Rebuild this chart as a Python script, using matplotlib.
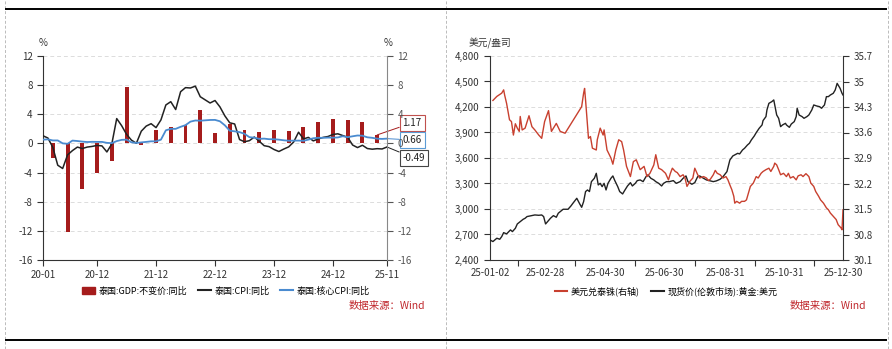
import numpy as np
import pandas as pd
import matplotlib
matplotlib.use("Agg")
import matplotlib.pyplot as plt
from matplotlib.lines import Line2D
from matplotlib.patches import Patch

plt.rcParams['font.family'] = ['Noto Sans CJK SC', 'DejaVu Sans']
plt.rcParams['axes.unicode_minus'] = False

# ---- left panel data: Thailand GDP / CPI / core CPI (monthly, 2020-01 .. 2025-11)
cpi = [1.05, 0.74, -0.54, -2.99, -3.44, -1.57, -0.98, -0.50, -0.70, -0.50, -0.41, -0.27,
       -0.34, -1.17, -0.08, 3.41, 2.44, 1.25, 0.45, 0.02, 1.68, 2.38, 2.71, 2.17,
       3.23, 5.28, 5.73, 4.65, 7.10, 7.66, 7.61, 7.86, 6.41, 5.98, 5.55, 5.89,
       5.02, 3.79, 2.83, 2.67, 0.53, 0.23, 0.38, 0.88, 0.30, -0.31, -0.44, -0.83,
       -1.11, -0.77, -0.47, 0.19, 1.54, 0.62, 0.83, 0.35, 0.61, 0.83, 0.95, 1.23,
       1.32, 1.08, 0.84, -0.22, -0.57, -0.25, -0.70, -0.79, -0.72, -0.76, -0.49]
core_cpi = [0.52, 0.56, 0.41, 0.41, 0.01, -0.05, 0.39, 0.33, 0.25, 0.19, 0.22, 0.21,
            0.21, 0.08, 0.04, 0.32, 0.49, 0.52, 0.15, 0.07, 0.14, 0.21, 0.29, 0.29,
            0.52, 1.80, 2.00, 2.00, 2.28, 2.51, 2.99, 3.15, 3.12, 3.17, 3.22, 3.23,
            3.04, 2.49, 1.75, 1.66, 1.55, 1.32, 0.86, 0.79, 0.63, 0.66, 0.58, 0.58,
            0.52, 0.43, 0.37, 0.38, 0.39, 0.36, 0.52, 0.71, 0.77, 0.77, 0.80, 0.79,
            0.82, 0.99, 0.86, 0.98, 1.09, 1.06, 0.84, 0.77, 0.65, 0.62, 0.66]
gdp = [-2.0, -12.2, -6.3, -4.0, -2.4, 7.7, -0.2, 1.9, 2.3, 2.5, 4.6, 1.4,
       2.7, 1.9, 1.5, 1.8, 1.7, 2.3, 3.0, 3.3, 3.2, 2.9, 1.17]
month_ticks = ['20-01', '20-12', '21-12', '22-12', '23-12', '24-12', '25-11']

# ---- right panel data: gold (USD/oz) and USD/THB, 2025 (day offsets from 2025-01-02)
gold_day = [0, 3, 7, 10, 12, 14, 17, 21, 23, 26, 28, 31, 34, 36, 38, 41, 44, 46, 50, 53,
            55, 57, 60, 62, 65, 68, 70, 72, 75, 78, 80, 83, 85, 89, 92, 94, 96, 98, 100, 102,
            104, 107, 109, 111, 113, 115, 117, 119, 121, 124, 126, 128, 131, 133, 136, 138,
            141, 144, 146, 149, 151, 154, 157, 160, 162, 165, 168, 170, 173, 176, 178, 181,
            184, 188, 191, 195, 198, 201, 203, 207, 210, 213, 215, 219, 222, 226, 229, 232,
            236, 239, 243, 246, 249, 251, 254, 256, 259, 261, 264, 266, 268, 271, 273, 276,
            279, 280, 283, 284, 286, 289, 291, 292, 294, 296, 298, 300, 303, 304, 307, 309,
            312, 314, 315, 317, 320, 322, 325, 327, 330, 332, 335, 338, 340, 343, 345, 347,
            349, 352, 354, 356, 359, 361, 362]
gold_px = [2636, 2617, 2656, 2644, 2675, 2722, 2707, 2754, 2734, 2773, 2824, 2852, 2879, 2891,
           2911, 2918, 2926, 2930, 2926, 2930, 2911, 2824, 2864, 2891, 2922, 2903, 2950, 2969,
           2997, 2997, 2997, 3036, 3067, 3126, 3060, 3020, 3087, 3205, 3224, 3205, 3322, 3361,
           3420, 3283, 3302, 3263, 3302, 3224, 3302, 3361, 3389, 3334, 3263, 3205, 3177, 3216,
           3271, 3310, 3271, 3302, 3334, 3342, 3322, 3381, 3401, 3361, 3342, 3322, 3302, 3271,
           3302, 3322, 3322, 3334, 3302, 3322, 3361, 3389, 3322, 3291, 3310, 3381, 3389, 3361,
           3342, 3330, 3322, 3330, 3350, 3381, 3440, 3577, 3624, 3636, 3655, 3648, 3695, 3714,
           3753, 3773, 3812, 3859, 3898, 3949, 3989, 4040, 4087, 4165, 4243, 4263, 4283, 4224,
           4106, 4067, 3969, 3989, 4008, 3989, 3961, 4000, 4028, 4087, 4185, 4106, 4087, 4067,
           4087, 4106, 4165, 4224, 4212, 4204, 4185, 4224, 4322, 4322, 4341, 4361, 4400, 4478,
           4420, 4361, 4341]
thb_day = [3, 7, 12, 14, 15, 17, 20, 22, 24, 26, 28, 30, 31, 33, 36, 40, 43, 46, 50, 53, 56,
           60, 63, 68, 72, 77, 94, 96, 97, 98, 101, 103, 105, 109, 110, 113, 116, 117, 120,
           124, 126, 129, 132, 135, 137, 140, 144, 147, 150, 154, 158, 161, 164, 168, 170,
           173, 176, 180, 183, 185, 187, 190, 192, 195, 198, 200, 202, 205, 208, 210, 213,
           215, 219, 222, 224, 226, 229, 231, 233, 236, 239, 242, 244, 246, 248, 250, 251,
           253, 256, 258, 261, 263, 265, 267, 270, 273, 275, 278, 280, 283, 286, 288, 291,
           292, 294, 296, 298, 301, 304, 306, 308, 311, 314, 316, 319, 321, 324, 327, 329,
           332, 334, 337, 339, 342, 345, 347, 349, 352, 355, 357, 360, 361, 362]
thb = [34.48, 34.59, 34.68, 34.77, 34.63, 34.40, 33.95, 33.90, 33.53, 33.84, 33.72, 33.63,
       34.04, 33.67, 33.72, 34.06, 33.76, 33.67, 33.53, 33.44, 33.90, 34.20, 33.63, 33.85,
       33.63, 33.58, 34.31, 34.68, 34.81, 34.49, 33.44, 33.49, 33.17, 33.12, 33.40, 33.72,
       33.53, 33.67, 33.12, 32.90, 32.73, 33.12, 33.40, 33.35, 33.12, 32.67, 32.39, 32.80,
       32.85, 32.58, 32.67, 32.39, 32.48, 32.71, 32.99, 32.62, 32.58, 32.48, 32.30, 32.48,
       32.62, 32.53, 32.50, 32.39, 32.44, 32.35, 32.12, 32.26, 32.35, 32.62, 32.44, 32.35,
       32.39, 32.35, 32.28, 32.32, 32.44, 32.56, 32.48, 32.44, 32.35, 32.39, 32.30, 32.16,
       32.03, 31.85, 31.66, 31.71, 31.66, 31.71, 31.71, 31.75, 31.94, 32.12, 32.21, 32.39,
       32.35, 32.48, 32.53, 32.58, 32.62, 32.53, 32.67, 32.76, 32.71, 32.58, 32.44, 32.48,
       32.39, 32.48, 32.35, 32.39, 32.30, 32.41, 32.44, 32.39, 32.47, 32.39, 32.21, 32.12,
       31.98, 31.85, 31.75, 31.66, 31.53, 31.48, 31.39, 31.30, 31.21, 31.07, 30.98, 30.93,
       31.48]
day_ticks = ['2025-01-02', '2025-02-28', '2025-04-30', '2025-06-30', '2025-08-31',
             '2025-10-31', '2025-12-30']

RED = '#a51c1c'
BLUE = '#4a8bd0'
BLACK = '#222222'
THB_RED = '#c8402f'
GRID = '#dcdcdc'
FS = 7

fig = plt.figure(figsize=(8.92, 3.49), dpi=100)

# ---------------- left chart
months = pd.date_range('2020-01-01', periods=len(cpi), freq='MS')
mi = np.arange(len(cpi))
qi = np.arange(len(gdp)) * 3 + 2

ax = fig.add_axes([43 / 892, 89 / 349, 344 / 892, 204 / 349])
ax.bar(qi, gdp, width=0.8, color=RED, zorder=2)
ax.plot(mi, cpi, color=BLACK, lw=1.1, zorder=3)
ax.plot(mi, core_cpi, color=BLUE, lw=1.3, zorder=3)
ax.set_xlim(0, len(cpi) - 1)
ax.set_ylim(-16, 12)
yt = np.arange(-16, 13, 4)
ax.set_yticks(yt)
ax.set_yticklabels([str(v) for v in yt])
ax.yaxis.grid(True, ls=(0, (4, 3)), color=GRID, lw=0.7)
ax.set_axisbelow(True)
labs = [m.strftime('%y-%m') for m in months]
ax.set_xticks([labs.index(t) for t in month_ticks])
ax.set_xticklabels(month_ticks)
ax.tick_params(labelsize=FS, length=4, width=0.8, colors='#333333')
for s in ['top']:
    ax.spines[s].set_visible(False)
ax.spines['right'].set_visible(False)
ax.spines['left'].set_color('#333333')
ax.spines['bottom'].set_color('#333333')

axr = ax.twinx()
axr.set_ylim(-16, 12)
axr.set_yticks(yt)
axr.set_yticklabels([str(v) for v in yt])
axr.tick_params(labelsize=FS, length=4, width=0.8, colors='#555555')
axr.spines['top'].set_visible(False)
axr.spines['left'].set_visible(False)
axr.spines['bottom'].set_visible(False)
axr.spines['right'].set_color('#888888')

fig.text(43 / 892, 1 - 43 / 349, '%', fontsize=FS, ha='center', va='center', color='#333333')
fig.text(388 / 892, 1 - 43 / 349, '%', fontsize=FS, ha='center', va='center', color='#333333')

# end-value tags
last = len(cpi) - 1
tags = [(gdp[-1], qi[-1], 0.672, RED, '#c0504d'), (core_cpi[-1], last, 0.588, BLUE, '#5b9bd5'),
        (cpi[-1], last, 0.50, BLACK, '#444444')]
for val, xv, ty, lc, ec in tags:
    ax.annotate(f'{val:.2f}', xy=(xv, val), xycoords='data', xytext=(1.045, ty),
                textcoords='axes fraction', fontsize=FS, ha='left', va='center', color='#222222',
                bbox=dict(boxstyle='square,pad=0.3', fc='white', ec=ec, lw=0.8),
                arrowprops=dict(arrowstyle='-', color=lc, lw=0.7, shrinkA=0, shrinkB=0),
                annotation_clip=False, zorder=5)

handles = [Patch(color=RED), Line2D([], [], color=BLACK, lw=1.5), Line2D([], [], color=BLUE, lw=1.5)]
fig.legend(handles, ['泰国:GDP:不变价:同比', '泰国:CPI:同比', '泰国:核心CPI:同比'],
           loc='center', bbox_to_anchor=(226 / 892, 1 - 291 / 349), ncol=3, frameon=False,
           fontsize=6.5, handlelength=1.4, handleheight=0.9, columnspacing=1.2, handletextpad=0.4)
fig.text(425 / 892, 1 - 306 / 349, '数据来源：Wind', fontsize=7.5, color='#c0282d',
         ha='right', va='center')

# ---------------- right chart
base = pd.Timestamp('2025-01-02')
gold_dates = base + pd.to_timedelta(gold_day, unit='D')
thb_dates = base + pd.to_timedelta(thb_day, unit='D')
tick_dates = pd.to_datetime(day_ticks)

bx = fig.add_axes([490 / 892, 89 / 349, 353 / 892, 204 / 349])
bx.plot(gold_dates, gold_px, color=BLACK, lw=1.0, zorder=3)
bx.set_xlim(tick_dates[0], tick_dates[-1])
bx.set_ylim(2400, 4800)
gt = np.arange(2400, 4801, 300)
bx.set_yticks(gt)
bx.set_yticklabels([f'{v:,}' for v in gt])
bx.yaxis.grid(True, ls=(0, (4, 3)), color=GRID, lw=0.7)
bx.set_axisbelow(True)
bx.set_xticks(tick_dates)
bx.set_xticklabels([d.strftime('%y-%m-%d') for d in tick_dates])
mids = tick_dates[:-1] + (tick_dates[1:] - tick_dates[:-1]) / 2
bx.set_xticks(mids, minor=True)
bx.tick_params(axis='x', which='major', length=0, pad=6)
bx.tick_params(axis='x', which='minor', length=4, width=0.8, colors='#333333')
bx.tick_params(labelsize=FS, colors='#333333')
bx.tick_params(axis='y', length=4, width=0.8)
bx.spines['top'].set_visible(False)
bx.spines['right'].set_visible(False)
bx.spines['left'].set_color('#333333')
bx.spines['bottom'].set_color('#333333')

bxr = bx.twinx()
bxr.plot(thb_dates, thb, color=THB_RED, lw=1.0, zorder=3)
bxr.set_ylim(30.1, 35.7)
tt = np.round(np.arange(30.1, 35.71, 0.7), 1)
bxr.set_yticks(tt)
bxr.set_yticklabels([f'{v:g}' for v in tt])
bxr.tick_params(labelsize=FS, length=4, width=0.8, colors='#333333')
bxr.spines['top'].set_visible(False)
bxr.spines['left'].set_visible(False)
bxr.spines['bottom'].set_visible(False)
bxr.spines['right'].set_color('#333333')

fig.text(490 / 892, 1 - 43 / 349, '美元/盎司', fontsize=FS, ha='center', va='center', color='#333333')

handles2 = [Line2D([], [], color=THB_RED, lw=1.5), Line2D([], [], color=BLACK, lw=1.5)]
fig.legend(handles2, ['美元兑泰铢(右轴)', '现货价(伦敦市场):黄金:美元'],
           loc='center', bbox_to_anchor=(666 / 892, 1 - 291 / 349), ncol=2, frameon=False,
           fontsize=6.5, handlelength=1.4, columnspacing=1.2, handletextpad=0.4)
fig.text(866 / 892, 1 - 306 / 349, '数据来源：Wind', fontsize=7.5, color='#c0282d',
         ha='right', va='center')

# ---------------- frame lines
for xv in [5, 446, 888]:
    fig.add_artist(Line2D([xv / 892, xv / 892], [0, 1], color='#bbbbbb', lw=0.7,
                          ls=(0, (3, 2))))
for yv in [9, 340]:
    fig.add_artist(Line2D([6 / 892, 886 / 892], [1 - yv / 349, 1 - yv / 349], color='black', lw=1.4))

fig.savefig('out.png', dpi=100)
